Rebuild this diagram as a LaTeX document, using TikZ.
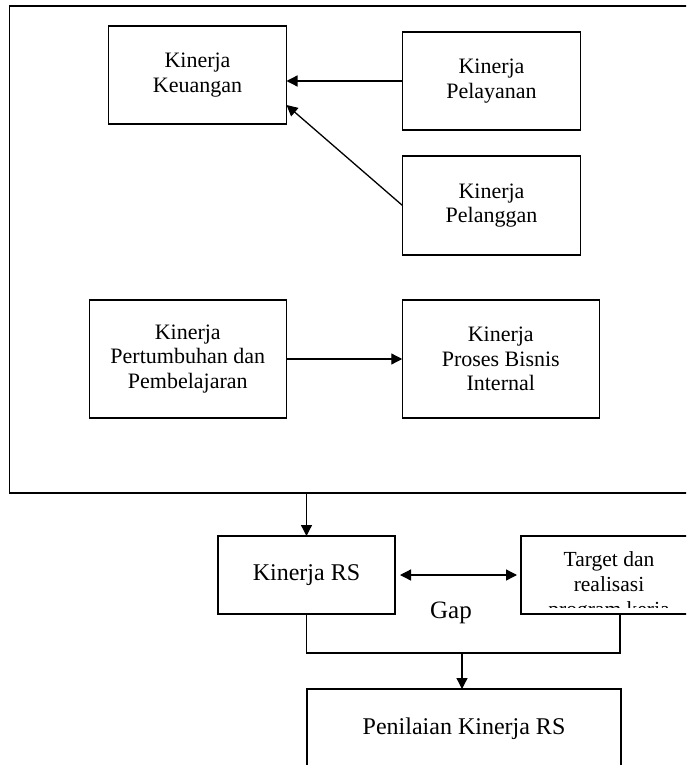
\documentclass[tikz,border=0pt]{standalone}
\usepackage{fontspec}
\setmainfont{Liberation Serif}
\usetikzlibrary{arrows.meta,positioning}

\begin{document}
\begin{tikzpicture}[x=1pt,y=-1pt,
  box/.style={draw,line width=1.3pt,inner sep=0pt,outer sep=0pt,align=center,
    font=\fontsize{22}{24.5}\selectfont},
  arr/.style={line width=1.3pt,-{Triangle[length=11pt,width=11pt]}}]
\useasboundingbox (0,0) rectangle (686,765);
\clip (0,0) rectangle (686,765);
% outer frame
\node[box,minimum width=711pt,minimum height=487pt] (frame) at (365,249.5) {};
% upper boxes
\node[box,minimum width=178pt,minimum height=98pt] (keu) at (197.5,75) {Kinerja\\Keuangan};
\node[box,minimum width=178pt,minimum height=98pt] (pel) at (491.5,81) {Kinerja\\Pelayanan};
\node[box,minimum width=178pt,minimum height=99pt] (plg) at (491.5,205.5) {Kinerja\\Pelanggan};
\node[box,minimum width=197pt,minimum height=118pt] (tum) at (187.75,359) {Kinerja\\Pertumbuhan dan\\Pembelajaran};
\node[box,minimum width=197pt,minimum height=118pt] (pro) at (500.75,359) {Kinerja\\Proses Bisnis\\Internal};
\draw[arr] (pel.west) -- (keu.east |- pel.west);
\draw[arr] (plg.west) -- ([yshift=-30pt]keu.east);
\draw[arr] (tum.east) -- (pro.west);
% lower part
\node[box,minimum width=177pt,minimum height=78pt,font=\fontsize{24}{26}\selectfont] (rs) at (306.5,575) {Kinerja RS};
\node[box,minimum width=179pt,minimum height=78pt] (tgt) at (610.5,575) {};
\begin{scope}
  \clip (tgt.north west) rectangle ([yshift=7pt]tgt.south east);
  \node[align=center,inner sep=0pt,font=\fontsize{21.5}{25}\selectfont] (tgttext) at (609,586.5) {Target dan\\realisasi\\program kerja};
\end{scope}
\node[box,minimum width=314pt,minimum height=79pt,font=\fontsize{24}{26}\selectfont] (pen) at (464,728.5) {Penilaian Kinerja RS};
\node[font=\fontsize{25}{27}\selectfont] (gap) at (451,613) {Gap};
\coordinate (join) at (462,653);
\draw[arr] (rs.north |- frame.south) -- (rs.north);
\draw[arr,{Triangle[length=11pt,width=11pt]}-{Triangle[length=11pt,width=11pt]},shorten <=5pt,shorten >=4pt] (rs.east) -- (tgt.west);
\draw[line width=1.3pt] (rs.south) |- (join) -| ([xshift=9.5pt]tgt.south);
\draw[arr] (join) -- (join |- pen.north);
\end{tikzpicture}
\end{document}
